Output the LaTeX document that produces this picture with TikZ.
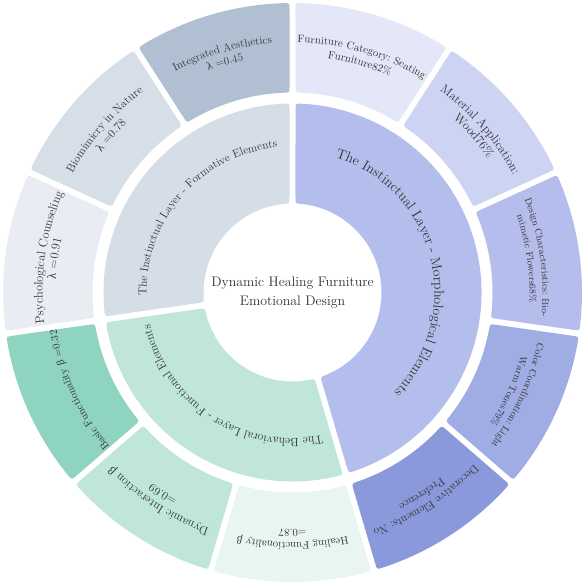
\documentclass[tikz,border=0pt]{standalone}
\usepackage{fontspec}
\newfontfamily\grk{Liberation Serif}
\definecolor{cForm}{HTML}{D5DDE6}
\definecolor{cInteg}{HTML}{B0C0D2}
\definecolor{cBio}{HTML}{D6DEE7}
\definecolor{cPsy}{HTML}{E9ECF2}
\definecolor{cMorph}{HTML}{B4BEEC}
\definecolor{cFurn}{HTML}{E4E7F8}
\definecolor{cMat}{HTML}{CDD3F3}
\definecolor{cDes}{HTML}{B4BDEC}
\definecolor{cCol}{HTML}{A0ACE4}
\definecolor{cDec}{HTML}{8A98DC}
\definecolor{cBeh}{HTML}{C0E6DC}
\definecolor{cBas}{HTML}{8FD3C1}
\definecolor{cDyn}{HTML}{C0E6DC}
\definecolor{cHeal}{HTML}{E9F5F2}
\definecolor{txt}{HTML}{333333}
\def\sbgh{3}
\def\sbcr{6}
\newcommand\sbseg[5]{%
 \pgfmathsetmacro\sbri{#3}\pgfmathsetmacro\sbro{#4}%
 \pgfmathsetmacro\sbrie{#3+\sbcr}\pgfmathsetmacro\sbroe{#4-\sbcr}%
 \pgfmathsetmacro\kAi{#1+\sbgh/#3*57.29578}%
 \pgfmathsetmacro\kAo{#1+\sbgh/#4*57.29578}%
 \pgfmathsetmacro\kBo{#2-\sbgh/#4*57.29578}%
 \pgfmathsetmacro\kBi{#2-\sbgh/#3*57.29578}%
 \pgfmathsetmacro\tAi{#1+(\sbgh+\sbcr)/#3*57.29578}%
 \pgfmathsetmacro\tAo{#1+(\sbgh+\sbcr)/#4*57.29578}%
 \pgfmathsetmacro\tBo{#2-(\sbgh+\sbcr)/#4*57.29578}%
 \pgfmathsetmacro\tBi{#2-(\sbgh+\sbcr)/#3*57.29578}%
 \pgfmathsetmacro\eAi{#1+\sbgh/\sbrie*57.29578}%
 \pgfmathsetmacro\eAo{#1+\sbgh/\sbroe*57.29578}%
 \pgfmathsetmacro\eBo{#2-\sbgh/\sbroe*57.29578}%
 \pgfmathsetmacro\eBi{#2-\sbgh/\sbrie*57.29578}%
 \fill[#5] (\eAi:\sbrie) -- (\eAo:\sbroe) .. controls (\kAo:\sbro) .. (\tAo:\sbro)
   arc[start angle=\tAo,end angle=\tBo,radius=\sbro]
   .. controls (\kBo:\sbro) .. (\eBo:\sbroe) -- (\eBi:\sbrie)
   .. controls (\kBi:\sbri) .. (\tBi:\sbri)
   arc[start angle=\tBi,end angle=\tAi,radius=\sbri]
   .. controls (\kAi:\sbri) .. (\eAi:\sbrie) -- cycle;}
% text along a clockwise arc, centred on a mid angle, baseline at the radius, tops outward
\newdimen\sbacc
\newdimen\sbwd
\newcount\sbcnt
\makeatletter
\newcommand\sbmeasure{%
 \pgfinterruptpicture\setbox0\hbox{\sbfont\sbc}\global\sbwd=\wd0 \endpgfinterruptpicture}
% font size that gives a line the wanted width
\newcommand\sbfit[2]{%
 \def\sbfont{\fontsize{10}{10}\selectfont}%
 \sbacc=0pt
 \@tfor\sbc:=#2\do{\sbmeasure\advance\sbacc by \sbwd}%
 \pgfmathsetmacro\sbsz{10*#1/\strip@pt\sbacc}}
\newcommand\sbarc[4]{%
 \edef\sbfont{\noexpand\fontsize{#3}{#3}\noexpand\selectfont}%
 \sbacc=0pt
 \@tfor\sbc:=#4\do{\sbmeasure\advance\sbacc by \sbwd}%
 \pgfmathsetmacro\sbstart{#1+0.5*\strip@pt\sbacc/#2*57.29578}%
 \sbacc=0pt
 \@tfor\sbc:=#4\do{%
   \sbmeasure
   \pgfmathsetmacro\sbth{\sbstart-(\strip@pt\sbacc+0.5*\strip@pt\sbwd)/#2*57.29578}%
   \global\advance\sbcnt by 1
   \node[anchor=base,inner sep=0pt,outer sep=0pt,text=txt,font=\sbfont,rotate=\sbth-90]
     (ch\the\sbcnt) at (\sbth:#2) {\sbc};%
   \advance\sbacc by \sbwd}}
% two-line label: mid angle, target width of line 1, line 1, line 2
\newcommand\sbtwo[4]{%
 \sbfit{#2}{#3}%
 \sbarc{#1}{250}{\sbsz}{#3}%
 \sbarc{#1}{237}{\sbsz}{#4}}
\makeatother
\begin{document}
\begin{tikzpicture}[x=1pt,y=1pt]
\fill[white] (-292.5,-292.5) rectangle (292.5,292.5);
\useasboundingbox (-292.5,-292.5) rectangle (292.5,292.5);
% inner ring
\sbseg{-73.636}{90}{89}{189}{cMorph}
\sbseg{-171.818}{-73.636}{89}{189}{cBeh}
\sbseg{90}{188.182}{89}{189}{cForm}
% outer ring
\sbseg{57.273}{90}{200}{289.5}{cFurn}
\sbseg{24.545}{57.273}{200}{289.5}{cMat}
\sbseg{-8.182}{24.545}{200}{289.5}{cDes}
\sbseg{-40.909}{-8.182}{200}{289.5}{cCol}
\sbseg{-73.636}{-40.909}{200}{289.5}{cDec}
\sbseg{-106.364}{-73.636}{200}{289.5}{cHeal}
\sbseg{-139.091}{-106.364}{200}{289.5}{cDyn}
\sbseg{-171.818}{-139.091}{200}{289.5}{cBas}
\sbseg{155.455}{188.182}{200}{289.5}{cPsy}
\sbseg{122.727}{155.455}{200}{289.5}{cBio}
\sbseg{90}{122.727}{200}{289.5}{cInteg}
% inner labels
\sbfit{222}{The~Instinctual~Layer~-~Formative~Elements}
\sbarc{138.5}{146}{\sbsz}{The~Instinctual~Layer~-~Formative~Elements}
\sbfit{296}{The~Instinctual~Layer~-~Morphological~Elements}
\sbarc{14}{142}{\sbsz}{The~Instinctual~Layer~-~Morphological~Elements}
\sbfit{232}{The~Behavioral~Layer~-~Functional~Elements}
\sbarc{-122.8}{146}{\sbsz}{The~Behavioral~Layer~-~Functional~Elements}
% outer labels
\sbtwo{73.636}{133}{Furniture~Category:~Seating}{Furniture82\%}
\sbtwo{40.909}{116}{Material~Application:}{Wood76\%}
\sbtwo{8.182}{116}{Design~Characteristics:~Bio-}{mimetic~Flowers68\%}
\sbtwo{-24.545}{113}{Color~Coordination:~Light}{Warm~Tones79\%}
\sbtwo{-57.273}{124}{Decorative~Elements:~No}{Preference}
\sbtwo{-90}{111}{Healing~Functionality~{\grk β}}{=0.87}
\sbtwo{-122.727}{118}{Dynamic~Interaction~{\grk β}}{=0.69}
\sbfit{130}{Basic~Functionality~{\grk β}~=0.32}
\sbarc{-155.455}{239}{\sbsz}{Basic~Functionality~{\grk β}~=0.32}
\sbtwo{171.818}{136}{Psychological~Counseling}{{\grk λ}~=0.91}
\sbtwo{139.091}{111}{Biomimicry~in~Nature}{{\grk λ}~=0.78}
\sbtwo{106.364}{104}{Integrated~Aesthetics}{{\grk λ}~=0.45}
\node[font=\fontsize{13.8}{19}\selectfont,align=center,text=txt] (title) at (0,0) {Dynamic Healing Furniture\\Emotional Design};
\end{tikzpicture}
\end{document}
